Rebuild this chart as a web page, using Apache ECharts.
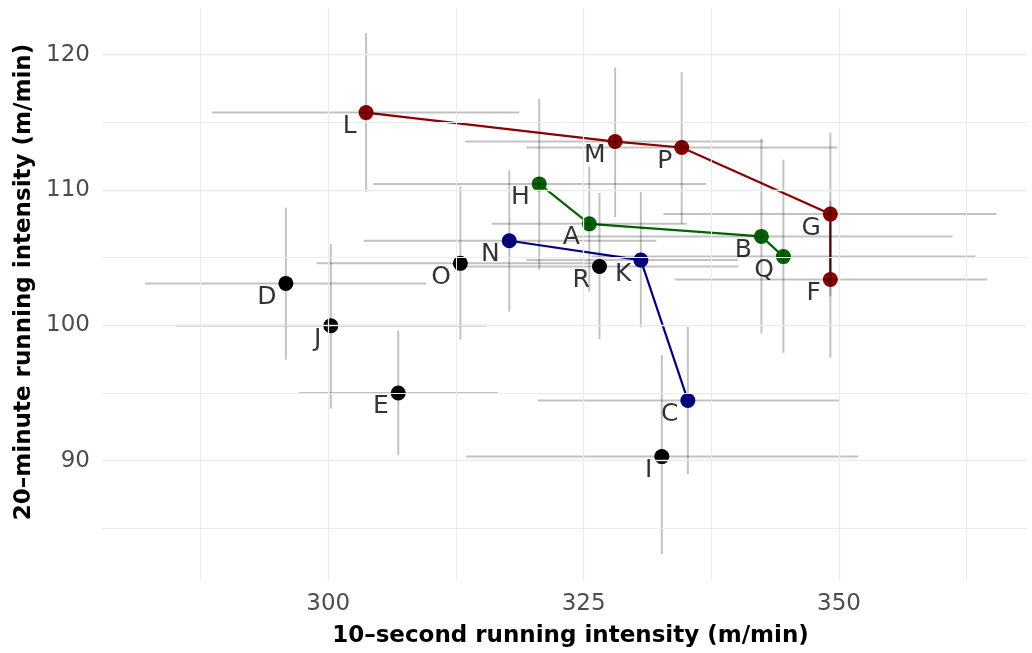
<!DOCTYPE html>
<html><head><meta charset="utf-8">
<script src="https://cdn.jsdelivr.net/npm/echarts@6/dist/echarts.min.js"></script>
<style>html,body{margin:0;padding:0;background:#fff}#c{width:1032px;height:653px}</style>
</head><body><div id="c"></div>
<script>
// ---- data ----
const labels = ['A','B','C','D','E','F','G','H','I','J','K','L','M','N','O','P','Q','R'];
const x10  = [325.55,342.4,335.2,295.85,306.85,349.15,349.15,320.65,332.65,300.25,330.6,303.7,328.08,317.72,312.93,334.6,344.55,326.55];
const y20  = [107.5,106.57,94.45,103.1,95.0,103.39,108.22,110.45,90.3,99.97,104.82,115.72,113.58,106.25,104.58,113.14,105.08,104.35];
const xLo  = [316.0,323.7,320.5,282.05,297.1,333.9,332.8,304.4,313.5,285.1,319.4,288.6,313.4,303.45,298.85,319.4,325.8,313.0];
const xHi  = [335.1,361.1,350.0,309.6,316.6,364.5,365.4,337.0,351.9,315.5,340.1,318.7,342.6,332.1,327.0,349.85,363.35,340.15];
const yLo  = [102.5,99.4,89.0,97.45,90.4,97.6,102.15,104.1,83.1,93.85,99.85,109.85,108.0,101.0,98.95,107.5,97.97,98.97];
const yHi  = [111.7,113.8,99.9,108.7,99.6,109.2,114.25,116.75,97.8,106.0,109.85,121.6,119.05,111.46,110.26,118.7,112.25,109.78];
const redPath   = ['L','M','P','G','F'];
const greenPath = ['H','A','B','Q'];
const bluePath  = ['N','K','C'];
const xTicks = [300,325,350];
const yTicks = [90,100,110,120];
const xMinor = [287.5,312.5,337.5,362.5];
const yMinor = [85,95,105,115];

// ---- chart ----
const FONT = '"DejaVu Sans", sans-serif';
const RED = '#8B0000', GREEN = '#006400', BLUE = '#00008B';
const idx = {}; labels.forEach((l,i)=>{idx[l]=i;});
const pathData = p => p.map(l => [x10[idx[l]], y20[idx[l]]]);
const colorOf = l => redPath.includes(l) ? RED : greenPath.includes(l) ? GREEN : bluePath.includes(l) ? BLUE : '#000000';

const chart = echarts.init(document.getElementById('c'), null, {renderer:'canvas'});

const gridLines = []
  .concat(xTicks.map(v=>({xAxis:v, lineStyle:{width:1.3}})))
  .concat(xMinor.map(v=>({xAxis:v, lineStyle:{width:1.0}})))
  .concat(yTicks.map(v=>({yAxis:v, lineStyle:{width:1.3}})))
  .concat(yMinor.map(v=>({yAxis:v, lineStyle:{width:1.0}})));

const lineSeries = (p, c) => ({
  type:'line', data:pathData(p), z:2, symbol:'none', silent:true,
  lineStyle:{color:c, width:2.2}, animation:false
});

const option = {
  animation:false,
  grid:{left:102,right:5,top:8,bottom:73},
  xAxis:{
    type:'value', min:277.85, max:368.4,
    axisLine:{show:false}, axisTick:{show:false}, splitLine:{show:false},
    axisLabel:{customValues:xTicks, color:'#4d4d4d', fontSize:23, fontFamily:FONT, margin:13},
    name:'10–second running intensity (m/min)', nameLocation:'middle', nameGap:45,
    nameTextStyle:{fontSize:23, fontWeight:'bold', color:'#000', fontFamily:FONT, padding:[0,0,0,12]}
  },
  yAxis:{
    type:'value', min:81.18, max:123.45,
    axisLine:{show:false}, axisTick:{show:false}, splitLine:{show:false},
    axisLabel:{customValues:yTicks, color:'#4d4d4d', fontSize:23, fontFamily:FONT, margin:12},
    name:'20–minute running intensity (m/min)', nameLocation:'middle', nameGap:62,
    nameTextStyle:{fontSize:23, fontWeight:'bold', color:'#000', fontFamily:FONT, padding:[0,0,0,24]}
  },
  series:[
    {type:'scatter', data:[], z:0, silent:true,
     markLine:{silent:true, symbol:'none', animation:false, label:{show:false},
       lineStyle:{color:'#ebebeb', type:'solid', width:1.2}, data:gridLines}},
    lineSeries(redPath, RED),
    lineSeries(greenPath, GREEN),
    lineSeries(bluePath, BLUE),
    {type:'scatter', z:3, symbolSize:15, silent:true,
     data: labels.map((l,i)=>({name:l, value:[x10[i], y20[i]], itemStyle:{color:colorOf(l), opacity:1}}))},
    {type:'custom', z:4, silent:true,
     data: labels.map((l,i)=>[x10[i], y20[i], xLo[i], xHi[i], yLo[i], yHi[i]]),
     encode:{x:0, y:1},
     renderItem:(params, api)=>{
       const x = api.value(0), y = api.value(1);
       const h1 = api.coord([api.value(2), y]), h2 = api.coord([api.value(3), y]);
       const v1 = api.coord([x, api.value(4)]), v2 = api.coord([x, api.value(5)]);
       const st = {stroke:'rgba(0,0,0,0.24)', lineWidth:2};
       return {type:'group', children:[
         {type:'line', shape:{x1:h1[0], y1:h1[1], x2:h2[0], y2:h2[1]}, style:st},
         {type:'line', shape:{x1:v1[0], y1:v1[1], x2:v2[0], y2:v2[1]}, style:st}
       ]};
     }},
    {type:'scatter', z:5, symbolSize:15, silent:true,
     data: labels.map((l,i)=>({name:l, value:[x10[i], y20[i]]})),
     itemStyle:{color:'rgba(0,0,0,0)'},
     label:{show:true, formatter:'{b}', position:'left', distance:2, offset:[0,14],
       fontSize:25, color:'#000', fontFamily:FONT}}
  ]
};
chart.setOption(option);
</script>
</body></html>
